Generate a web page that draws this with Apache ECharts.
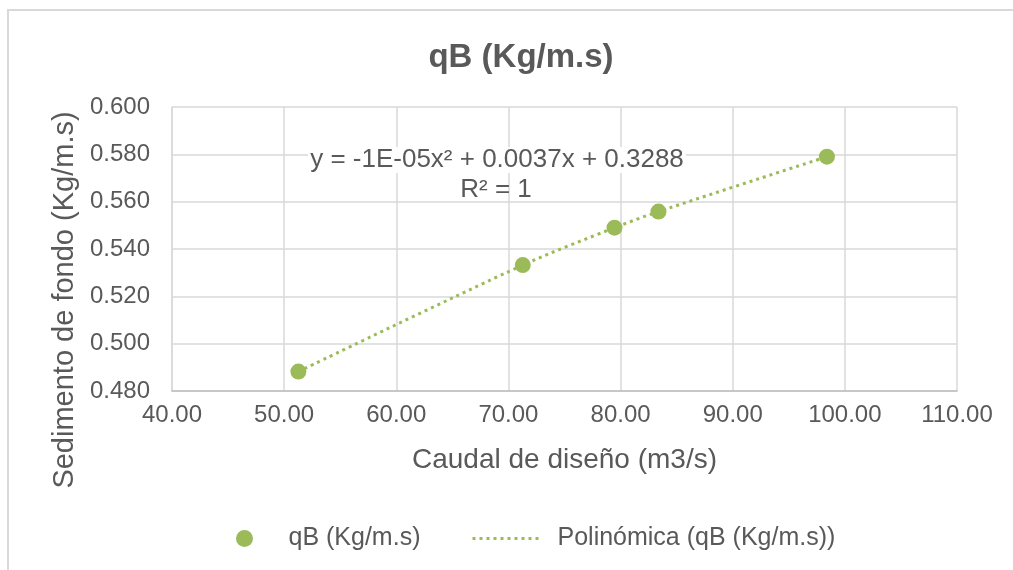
<!DOCTYPE html>
<html>
<head>
<meta charset="utf-8">
<script src="https://cdn.jsdelivr.net/npm/echarts@6/dist/echarts.min.js"></script>
<style>
html,body{margin:0;padding:0;background:#fff;}
#wrap{position:relative;width:1013px;height:570px;overflow:hidden;}
#chart{width:1013px;height:570px;}
#frame{position:absolute;left:7px;top:9px;width:1100px;height:700px;border-left:2px solid #d9d9d9;border-top:2px solid #d9d9d9;pointer-events:none;}
</style>
</head>
<body>
<div id="wrap">
<div id="chart"></div>
<div id="frame"></div>
</div>
<script>
// Data
const caudal = [51.27, 71.28, 79.46, 83.38, 98.40];      // x: Caudal de diseño (m3/s)
const sedimento = [0.4882, 0.5332, 0.5490, 0.5558, 0.5790]; // y: qB (Kg/m.s)
const seriesName = 'qB (Kg/m.s)';
const trendName = 'Polinómica (qB (Kg/m.s))';
const chartTitle = 'qB (Kg/m.s)';
const xTitle = 'Caudal de diseño (m3/s)';
const yTitle = 'Sedimento de fondo (Kg/m.s)';
const equation = 'y = -1E-05x\u00B2 + 0.0037x + 0.3288';
const rSquared = 'R\u00B2 = 1';

const points = caudal.map((x, i) => [x, sedimento[i]]);

const green = '#9bbb59';
const textColor = '#595959';
const fontFamily = '"Liberation Sans", Arial, sans-serif';

const chart = echarts.init(document.getElementById('chart'), null, {renderer: 'canvas'});
chart.setOption({
  animation: false,
  backgroundColor: '#ffffff',
  textStyle: {fontFamily: fontFamily, color: textColor},
  title: {
    text: chartTitle,
    left: 516,
    top: 36,
    textAlign: 'center',
    textStyle: {fontSize: 33, fontWeight: 'bold', color: textColor, fontFamily: fontFamily}
  },
  grid: {left: 172, right: 56, top: 107, bottom: 179, containLabel: false},
  xAxis: {
    type: 'value',
    min: 40, max: 110, interval: 10,
    name: xTitle,
    nameLocation: 'middle',
    nameGap: 55,
    nameTextStyle: {fontSize: 28, color: textColor, fontFamily: fontFamily},
    axisLine: {show: true, lineStyle: {color: '#bfbfbf', width: 1.5}},
    axisTick: {show: false},
    axisLabel: {fontSize: 24, color: textColor, margin: 12, fontFamily: fontFamily,
      formatter: v => v.toFixed(2)},
    splitLine: {show: true, lineStyle: {color: '#d9d9d9', width: 1.5}}
  },
  yAxis: {
    type: 'value',
    min: 0.48, max: 0.6, interval: 0.02,
    axisLine: {show: true, lineStyle: {color: '#d9d9d9', width: 1.5}},
    axisTick: {show: false},
    axisLabel: {fontSize: 24, color: textColor, margin: 22, fontFamily: fontFamily,
      formatter: v => v.toFixed(3)},
    splitLine: {show: true, lineStyle: {color: '#d9d9d9', width: 1.5}}
  },
  legend: [
    {
      data: [{name: seriesName, icon: 'circle'}],
      left: 231, top: 521,
      itemWidth: 70, itemHeight: 17,
      textStyle: {fontSize: 25, color: textColor, fontFamily: fontFamily, padding: [0, 0, 0, 4]}
    },
    {
      data: [{name: trendName}],
      left: 466, top: 521,
      itemWidth: 70, itemHeight: 17,
      itemStyle: {color: 'rgba(0,0,0,0)', borderWidth: 0, opacity: 0},
      lineStyle: {color: green, width: 3, type: [3, 4], cap: 'butt'},
      textStyle: {fontSize: 25, color: textColor, fontFamily: fontFamily, padding: [0, 0, 0, 10]}
    }
  ],
  series: [
    {
      name: trendName,
      type: 'line',
      data: points,
      smooth: 0.3,
      symbol: 'none',
      showSymbol: false,
      z: 1,
      lineStyle: {color: green, width: 3, type: [3, 4], cap: 'butt'},
      itemStyle: {color: green}
    },
    {
      name: seriesName,
      type: 'scatter',
      data: points,
      symbol: 'circle',
      symbolSize: 16,
      z: 3,
      itemStyle: {color: green, opacity: 1}
    }
  ],
  graphic: [
    {
      type: 'text',
      x: 65, y: 300,
      rotation: Math.PI / 2,
      style: {text: yTitle, fontSize: 29, fill: textColor, fontFamily: fontFamily,
        textAlign: 'center', textVerticalAlign: 'middle'}
    },
    {
      type: 'text',
      x: 497, y: 160,
      z: 10,
      style: {text: equation, fontSize: 26, fill: textColor, fontFamily: fontFamily,
        textAlign: 'center', textVerticalAlign: 'middle',
        backgroundColor: '#ffffff', padding: [0, 2, 0, 2]}
    },
    {
      type: 'text',
      x: 496, y: 190,
      z: 10,
      style: {text: rSquared, fontSize: 26, fill: textColor, fontFamily: fontFamily,
        textAlign: 'center', textVerticalAlign: 'middle'}
    }
  ]
});
</script>
</body>
</html>
